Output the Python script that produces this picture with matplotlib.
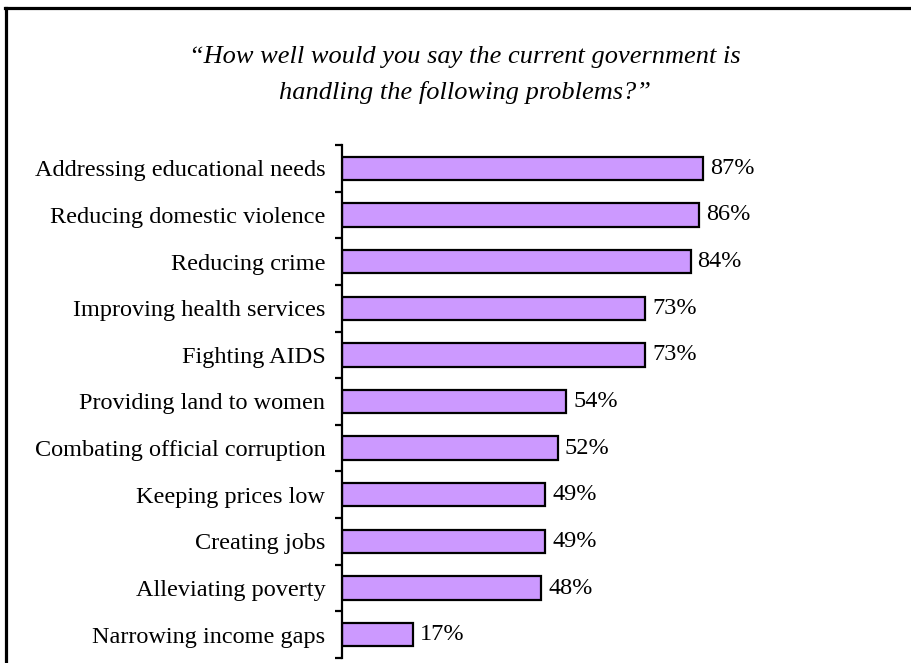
import numpy as np
import matplotlib.pyplot as plt
from matplotlib.lines import Line2D

# Survey results: share of respondents per issue
categories = [
    "Addressing educational needs",
    "Reducing domestic violence",
    "Reducing crime",
    "Improving health services",
    "Fighting AIDS",
    "Providing land to women",
    "Combating official corruption",
    "Keeping prices low",
    "Creating jobs",
    "Alleviating poverty",
    "Narrowing income gaps",
]
values = [87, 86, 84, 73, 73, 54, 52, 49, 49, 48, 17]

plt.rcParams['font.family'] = ['Liberation Serif', 'DejaVu Serif']

W, H = 912, 663
fig = plt.figure(figsize=(W / 100, H / 100), dpi=100)
fig.patch.set_facecolor("white")

ax = fig.add_axes([342 / W, 5 / H, 415 / W, 513 / H])
y = np.arange(len(categories))
ax.barh(y, values, height=0.5, color="#CC99FF", edgecolor="black", linewidth=1.6)

ax.set_xlim(0, 100)
ax.set_ylim(len(categories) - 0.5, -0.5)

# labels at bar centres, tick marks between bars
ax.set_yticks(y)
ax.set_yticklabels(categories, fontsize=17.5)
ax.tick_params(axis="y", which="major", length=0, pad=12)
ax.set_yticks(np.arange(-0.5, len(categories), 1), minor=True)
ax.tick_params(axis="y", which="minor", length=5, width=1.6, direction="out")
ax.set_xticks([])

for s in ["top", "right", "bottom"]:
    ax.spines[s].set_visible(False)
ax.spines["left"].set_linewidth(1.6)

for yi, v in zip(y, values):
    ax.annotate(f"{v}%", (v, yi), xytext=(5, 0), textcoords="offset points",
                va="center", ha="left", fontsize=17.5)

fig.text(0.51, 1 - 57 / H, "\u201cHow well would you say the current government is",
         ha="center", va="center", fontsize=19, style="italic")
fig.text(0.51, 1 - 93 / H, "handling the following problems?\u201d",
         ha="center", va="center", fontsize=19, style="italic")

# outer frame (top and left edges)
fig.add_artist(Line2D([5 / W, 1], [1 - 7.5 / H, 1 - 7.5 / H], color="black", lw=2.3,
                      transform=fig.transFigure))
fig.add_artist(Line2D([6.5 / W, 6.5 / W], [0, 1 - 7.5 / H], color="black", lw=2.3,
                      transform=fig.transFigure))

fig.savefig("out.png", dpi=100)
